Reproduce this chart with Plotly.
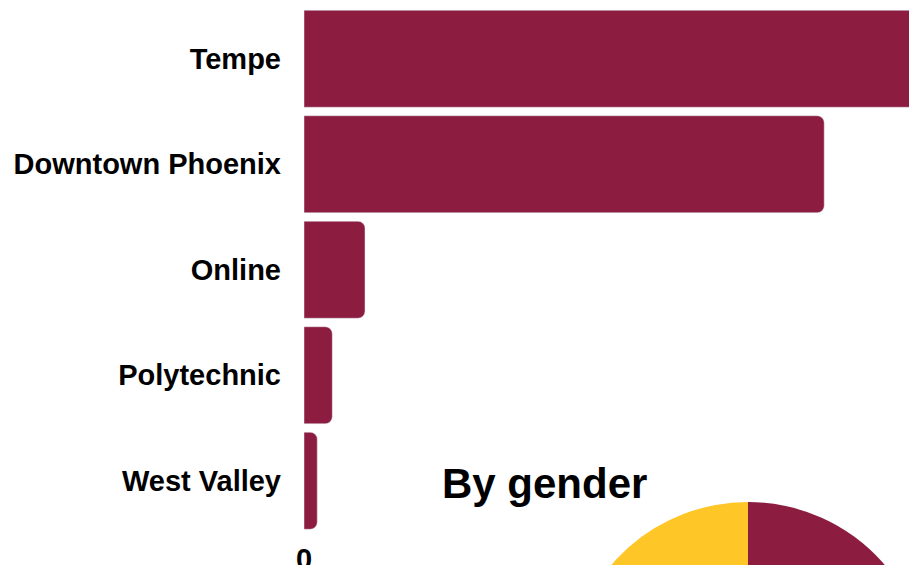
import plotly.graph_objects as go

# campus enrollment (bars, top to bottom)
campuses = ["Tempe", "Downtown Phoenix", "Online", "Polytechnic", "West Valley"]
campus_counts = [15400, 11770, 1380, 640, 300]

# gender split (pie)
genders = ["Female", "Male"]
gender_counts = [15840, 13650]

x_ticks = [0]

MAROON = "#8C1D40"
GOLD = "#FFC627"
FONT = "Arial, Liberation Sans, sans-serif"

fig = go.Figure()

fig.add_trace(go.Bar(
    x=campus_counts, y=campuses, orientation="h",
    marker=dict(color=MAROON),
    showlegend=False,
    hovertemplate="%{y}: %{x:,}<extra></extra>",
))

fig.add_trace(go.Pie(
    labels=genders, values=gender_counts,
    marker=dict(colors=[MAROON, GOLD]),
    textinfo="percent", textposition="inside",
    domain=dict(x=[0.29864, 0.70588], y=[0.10273, 0.48008]),
    showlegend=False,
))

fig.add_annotation(
    text="By gender", x=0.27206, y=0.5, xref="paper", yref="paper",
    xanchor="center", yanchor="middle", showarrow=False,
    font=dict(size=42, color="black", family=FONT, weight="bold"),
)

fig.update_layout(
    width=1200, height=1000,
    margin=dict(l=304, r=12, t=6, b=40),
    plot_bgcolor="white", paper_bgcolor="white",
    font=dict(family=FONT, color="black"),
    barcornerradius=7,
    bargap=0.08,
    xaxis=dict(range=[0, 20000], tickvals=x_ticks, showgrid=False, zeroline=False,
               tickfont=dict(size=29, weight="bold"), ticklabelstandoff=5),
    yaxis=dict(domain=[0.44706, 1], range=[4.5, -0.5], showgrid=False,
               tickfont=dict(size=29, weight="bold"), ticklabelstandoff=22),
)

# figure is bigger than the window: drop the page margin so it starts at the corner
fig.write_html(
    "out.html",
    post_script="document.body.style.margin='0';",
)
